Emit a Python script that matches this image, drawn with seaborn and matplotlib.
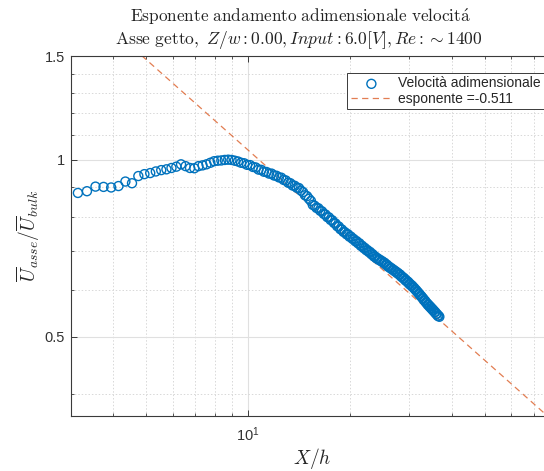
import numpy as np
import pandas as pd
import matplotlib
matplotlib.use("Agg")
import matplotlib.pyplot as plt
import matplotlib.ticker as mticker
import seaborn as sns

# Measured centreline velocity along the jet axis
x_over_h = [
    3.15, 3.35, 3.55, 3.75, 3.95, 4.15, 4.35, 4.55, 4.75, 4.95,
    5.15, 5.35, 5.55, 5.75, 5.95, 6.15, 6.35, 6.55, 6.75, 6.95,
    7.15, 7.35, 7.55, 7.75, 7.95, 8.15, 8.35, 8.55, 8.75, 8.95,
    9.15, 9.35, 9.55, 9.75, 9.95, 10.15, 10.35, 10.55, 10.75, 10.95,
    11.15, 11.35, 11.55, 11.75, 11.95, 12.15, 12.35, 12.55, 12.75, 12.95,
    13.15, 13.35, 13.55, 13.75, 13.95, 14.15, 14.35, 14.55, 14.75, 14.95,
    15.15, 15.35, 15.55, 15.75, 15.95, 16.15, 16.35, 16.55, 16.75, 16.95,
    17.15, 17.35, 17.55, 17.75, 17.95, 18.15, 18.35, 18.55, 18.75, 18.95,
    19.15, 19.35, 19.55, 19.75, 19.95, 20.15, 20.35, 20.55, 20.75, 20.95,
    21.15, 21.35, 21.55, 21.75, 21.95, 22.15, 22.35, 22.55, 22.75, 22.95,
    23.15, 23.35, 23.55, 23.75, 23.95, 24.15, 24.35, 24.55, 24.75, 24.95,
    25.15, 25.35, 25.55, 25.75, 25.95, 26.15, 26.35, 26.55, 26.75, 26.95,
    27.15, 27.35, 27.55, 27.75, 27.95, 28.15, 28.35, 28.55, 28.75, 28.95,
    29.15, 29.35, 29.55, 29.75, 29.95, 30.15, 30.35, 30.55, 30.75, 30.95,
    31.15, 31.35, 31.55, 31.75, 31.95, 32.15, 32.35, 32.55, 32.75, 32.95,
    33.15, 33.35, 33.55, 33.75, 33.95, 34.15, 34.35, 34.55, 34.75, 34.95,
    35.15, 35.35, 35.55, 35.75, 35.95, 36.15, 36.35, 36.55, 36.75,
]
u_ratio = [
    0.878, 0.884, 0.900, 0.899, 0.897, 0.902, 0.918, 0.912, 0.938, 0.945,
    0.949, 0.955, 0.960, 0.963, 0.968, 0.973, 0.982, 0.975, 0.968, 0.967,
    0.975, 0.978, 0.982, 0.988, 0.994, 0.996, 0.997, 0.999, 1.000, 0.999,
    0.996, 0.993, 0.988, 0.986, 0.980, 0.979, 0.972, 0.970, 0.962, 0.961,
    0.954, 0.953, 0.947, 0.947, 0.940, 0.939, 0.933, 0.932, 0.924, 0.922,
    0.914, 0.912, 0.904, 0.903, 0.896, 0.895, 0.886, 0.881, 0.870, 0.867,
    0.858, 0.851, 0.838, 0.835, 0.828, 0.827, 0.819, 0.817, 0.809, 0.807,
    0.799, 0.798, 0.790, 0.789, 0.781, 0.779, 0.771, 0.770, 0.762, 0.761,
    0.754, 0.753, 0.747, 0.747, 0.740, 0.740, 0.734, 0.733, 0.727, 0.727,
    0.721, 0.721, 0.714, 0.714, 0.708, 0.708, 0.702, 0.702, 0.697, 0.697,
    0.691, 0.691, 0.685, 0.685, 0.680, 0.680, 0.676, 0.676, 0.672, 0.672,
    0.668, 0.668, 0.663, 0.663, 0.658, 0.658, 0.654, 0.654, 0.650, 0.650,
    0.646, 0.646, 0.642, 0.642, 0.638, 0.638, 0.633, 0.633, 0.629, 0.629,
    0.624, 0.624, 0.620, 0.620, 0.615, 0.615, 0.611, 0.611, 0.607, 0.606,
    0.602, 0.601, 0.597, 0.596, 0.592, 0.591, 0.587, 0.586, 0.582, 0.581,
    0.577, 0.576, 0.572, 0.571, 0.567, 0.567, 0.563, 0.563, 0.559, 0.559,
    0.555, 0.555, 0.551, 0.551, 0.547, 0.547, 0.543, 0.543, 0.541,
]

# Power-law fit  U = coeff * (X/h)^exponent
fit_exponent = -0.511
fit_coeff = 3.37
fit_x = [3.0, 80.0]

y_major = [0.5, 1.0, 1.5]
y_major_labels = ["0.5", "1", "1.5"]
y_minor = [0.4, 0.6, 0.7, 0.8, 0.9, 1.1, 1.2, 1.3, 1.4]
x_major = [10]
x_major_labels = [r"$\mathregular{10^{1}}$"]
x_minor = [3, 4, 5, 6, 7, 8, 9, 20, 30, 40, 50, 60, 70, 80]

sns.set_theme(style="white")
plt.rcParams["font.family"] = ["Liberation Sans", "DejaVu Sans"]
plt.rcParams["mathtext.fontset"] = "cm"

blue = "#0072BD"
orange = "#D95319"
axis_col = "#3a3a3a"

fig = plt.figure(figsize=(5.44, 4.71), dpi=100)
ax = fig.add_axes([0.130, 0.1168, 0.888, 0.7643])

df = pd.DataFrame({"x": x_over_h, "u": u_ratio})
sns.scatterplot(data=df, x="x", y="u", ax=ax, marker="o", s=42,
                facecolor="none", edgecolor=blue, linewidth=1.0,
                label="Velocità adimensionale", zorder=3)

fit_y = [fit_coeff * xv ** fit_exponent for xv in fit_x]
fit_df = pd.DataFrame({"x": fit_x, "u": fit_y})
sns.lineplot(data=fit_df, x="x", y="u", ax=ax, color=orange, alpha=0.75,
             linewidth=0.9, dashes=False, label=f"esponente ={fit_exponent}",
             zorder=2)
ax.lines[-1].set_dashes((5, 3.5))

ax.set_xscale("log")
ax.set_yscale("log")
ax.set_xlim(3, 80)
ax.set_ylim(0.367, 1.5)

ax.xaxis.set_major_locator(mticker.FixedLocator(x_major))
ax.xaxis.set_major_formatter(mticker.FixedFormatter(x_major_labels))
ax.xaxis.set_minor_locator(mticker.FixedLocator(x_minor))
ax.xaxis.set_minor_formatter(mticker.NullFormatter())
ax.yaxis.set_major_locator(mticker.FixedLocator(y_major))
ax.yaxis.set_major_formatter(mticker.FixedFormatter(y_major_labels))
ax.yaxis.set_minor_locator(mticker.FixedLocator(y_minor))
ax.yaxis.set_minor_formatter(mticker.NullFormatter())

ax.grid(True, which="major", color="#e0e0e0", linewidth=0.8, linestyle="-")
ax.grid(True, which="minor", color="#d8d8d8", linewidth=0.7, linestyle=(0, (1.5, 2)))
ax.set_axisbelow(True)

for s in ax.spines.values():
    s.set_color(axis_col)
    s.set_linewidth(0.8)
ax.tick_params(which="both", direction="in", top=True, right=True,
               bottom=True, left=True, color=axis_col, labelcolor="#333333",
               labelsize=10.5)
ax.tick_params(which="major", length=4, width=0.7)
ax.tick_params(which="minor", length=2.5, width=0.6)
ax.tick_params(axis="x", pad=7)
ax.tick_params(axis="y", pad=4)

ax.set_xlabel(r"$X/h$", fontsize=14, labelpad=1)
ax.set_ylabel(r"$\overline{U}_{asse}/\overline{U}_{bulk}$", fontsize=14, labelpad=2)

fig.text(0.552, 0.964,
         r"$\mathrm{Esponente\ andamento\ adimensionale\ velocit\acute{a}}$",
         ha="center", va="center", fontsize=12.4, color="#222222")
fig.text(0.550, 0.915,
         r"$\mathrm{Asse\ getto,}\ Z/w: 0.00, Input: 6.0[V], Re: \sim 1400$",
         ha="center", va="center", fontsize=12.6, color="#222222")

leg = ax.legend(loc="upper left", bbox_to_anchor=(0.638, 0.845),
                bbox_transform=fig.transFigure, fontsize=10, frameon=True,
                fancybox=False, framealpha=1, edgecolor=axis_col,
                borderpad=0.25, labelspacing=0.1, handlelength=3.0,
                handletextpad=0.45, borderaxespad=0)
leg.get_frame().set_linewidth(0.7)

fig.savefig("out.png", dpi=100)
